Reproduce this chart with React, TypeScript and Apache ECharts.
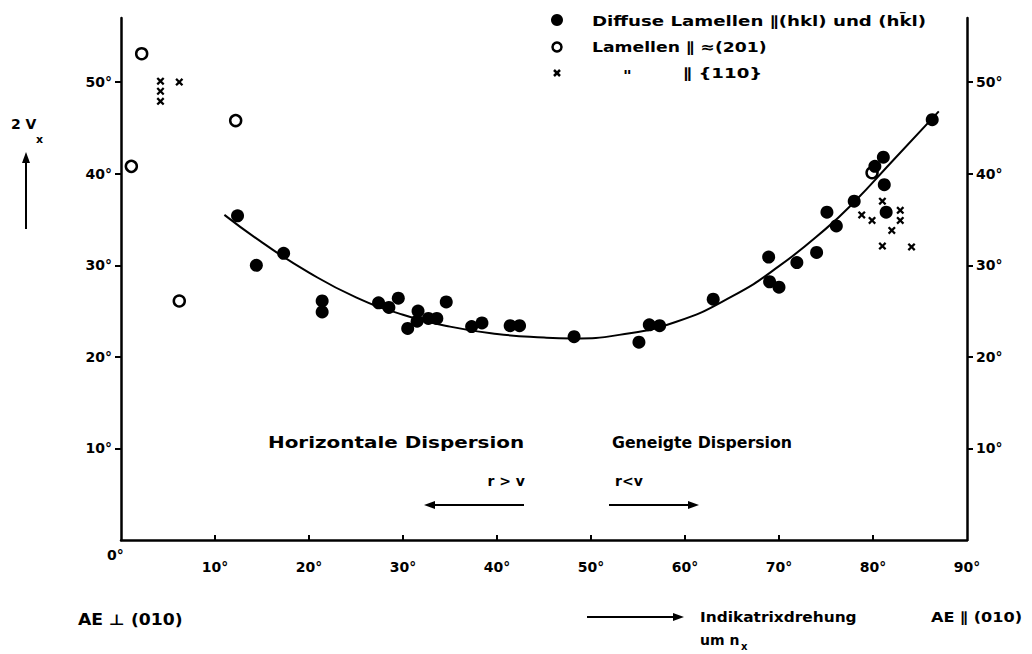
import React, { useEffect, useRef } from "react";
import * as echarts from "echarts";

// ---- data ----
const filledX = [12.4, 14.4, 17.3, 21.4, 21.4, 27.4, 28.5, 29.5, 30.5, 31.5, 31.6, 32.7, 33.6, 34.6, 37.3, 38.4, 41.4, 42.4, 48.2, 55.1, 56.2, 57.3, 63.0, 68.9, 69.0, 70.0, 71.9, 74.0, 75.1, 76.1, 78.0, 80.2, 81.1, 81.2, 81.4, 86.3];
const filledY = [35.4, 30.0, 31.3, 26.1, 24.9, 25.9, 25.4, 26.4, 23.1, 23.9, 25.0, 24.2, 24.2, 26.0, 23.3, 23.7, 23.4, 23.4, 22.2, 21.6, 23.5, 23.4, 26.3, 30.9, 28.2, 27.6, 30.3, 31.4, 35.8, 34.3, 37.0, 40.8, 41.8, 38.8, 35.8, 45.9];

const openX = [1.1, 2.2, 6.2, 12.2, 79.9];
const openY = [40.8, 53.1, 26.1, 45.8, 40.1];

const crossX = [4.2, 4.2, 4.2, 6.2, 78.8, 79.9, 81.0, 81.0, 82.0, 82.9, 82.9, 84.1];
const crossY = [50.1, 49.0, 47.9, 50.0, 35.5, 34.9, 37.0, 32.1, 33.8, 36.0, 34.9, 32.0];

const curveX = [11, 15, 20, 25, 30, 35, 40, 45, 48, 53, 59, 65, 70, 75, 78, 82, 87];
const curveY = [35.5, 32.5, 29.2, 26.5, 24.6, 23.3, 22.5, 22.1, 22.0, 22.4, 23.8, 26.6, 29.9, 34.0, 36.9, 41.3, 46.8];

const xTicks = [10, 20, 30, 40, 50, 60, 70, 80];
const xLabels = [10, 20, 30, 40, 50, 60, 70, 80, 90];
const yTicks = [10, 20, 30, 40, 50];

const NAME_FILLED = "Diffuse Lamellen \u2225(hkl) und (hk\u0304l)";
const NAME_OPEN = "Lamellen \u2225 \u2248(201)";
const NAME_CROSS = "\u2225 {110}";

const FONT = "DejaVu Sans";
const CROSS_PATH = "path://M0,2L2,0L5,3L8,0L10,2L7,5L10,8L8,10L5,7L2,10L0,8L3,5Z";

const zip = (xs: number[], ys: number[]) => xs.map((x, i) => [x, ys[i]]);

const txt = (x: number, y: number, text: string, size = 14, align = "left", scaleX = 1) => ({
  type: "text",
  x,
  y,
  scaleX,
  style: {
    text,
    fill: "#000",
    font: `bold ${size}px "${FONT}"`,
    textAlign: align,
    textVerticalAlign: "middle",
  },
});

const arrow = (x1: number, y1: number, x2: number, y2: number) => {
  const dx = x2 - x1;
  const dy = y2 - y1;
  const len = Math.sqrt(dx * dx + dy * dy);
  const ux = dx / len;
  const uy = dy / len;
  const hl = 11;
  const hw = 4;
  const bx = x2 - ux * hl;
  const by = y2 - uy * hl;
  return [
    { type: "line", shape: { x1, y1, x2: bx, y2: by }, style: { stroke: "#000", lineWidth: 2 } },
    {
      type: "polygon",
      shape: {
        points: [
          [x2, y2],
          [bx - uy * hw, by + ux * hw],
          [bx + uy * hw, by - ux * hw],
        ],
      },
      style: { fill: "#000" },
    },
  ];
};

export default function App() {
  const ref = useRef<HTMLDivElement>(null);

  useEffect(() => {
    if (!ref.current) return;
    const chart = echarts.init(ref.current, null, { renderer: "svg" });

    const labelStyle = {
      color: "#000",
      fontFamily: FONT,
      fontWeight: "bold",
      fontSize: 14,
    };

    const yAxisBase = {
      type: "value",
      min: 0,
      max: 57,
      splitLine: { show: false },
      axisLine: { show: true, onZero: false, lineStyle: { color: "#000", width: 2.5 } },
      axisTick: { show: true, inside: false, length: 6, lineStyle: { color: "#000", width: 2 }, customValues: yTicks },
      axisLabel: { ...labelStyle, margin: 9, formatter: "{value}°", customValues: yTicks },
    };

    const option = {
      animation: false,
      backgroundColor: "#fff",
      grid: { left: 121, right: 65, top: 18, bottom: 114, containLabel: false },
      xAxis: {
        type: "value",
        min: 0,
        max: 90,
        interval: 10,
        splitLine: { show: false },
        axisLine: { show: true, onZero: false, lineStyle: { color: "#000", width: 2.5 } },
        axisTick: { show: true, inside: true, length: 5, lineStyle: { color: "#000", width: 2 }, customValues: xTicks },
        axisLabel: { ...labelStyle, margin: 20, formatter: "{value}°", customValues: xLabels },
      },
      yAxis: [
        { ...yAxisBase, position: "left" },
        { ...yAxisBase, position: "right" },
      ],
      series: [
        {
          name: "curve",
          type: "line",
          data: zip(curveX, curveY),
          smooth: true,
          showSymbol: false,
          lineStyle: { color: "#000", width: 2 },
          z: 1,
        },
        {
          name: NAME_FILLED,
          type: "scatter",
          data: zip(filledX, filledY),
          symbol: "circle",
          symbolSize: 13,
          itemStyle: { color: "#000", opacity: 1 },
          z: 3,
        },
        {
          name: NAME_OPEN,
          type: "scatter",
          data: zip(openX, openY),
          symbol: "circle",
          symbolSize: 11,
          itemStyle: { color: "#fff", borderColor: "#000", borderWidth: 2.5, opacity: 1 },
          z: 2,
        },
        {
          name: NAME_CROSS,
          type: "scatter",
          data: zip(crossX, crossY),
          symbol: CROSS_PATH,
          symbolSize: 8,
          itemStyle: { color: "#000", opacity: 1 },
          z: 3,
        },
      ],
      graphic: [
        // legend
        { type: "circle", shape: { cx: 557, cy: 20, r: 6 }, style: { fill: "#000" } },
        { type: "circle", shape: { cx: 557, cy: 47, r: 4.5 }, style: { fill: "#fff", stroke: "#000", lineWidth: 2.5 } },
        { type: "line", shape: { x1: 554, y1: 70, x2: 560, y2: 76 }, style: { stroke: "#000", lineWidth: 2.5 } },
        { type: "line", shape: { x1: 560, y1: 70, x2: 554, y2: 76 }, style: { stroke: "#000", lineWidth: 2.5 } },
        txt(592, 21, NAME_FILLED, 14, "left", 1.3),
        txt(592, 47, NAME_OPEN, 14, "left", 1.23),
        txt(623, 75, '"', 14, "left", 1.2),
        txt(683, 73, NAME_CROSS, 14, "left", 1.3),
        // annotations
        txt(107, 555, "0°", 14, "left"),
        { type: "text", x: 11, y: 124, style: { text: "2 V", fill: "#000", font: `bold 14px "${FONT}"`, textVerticalAlign: "middle" } },
        { type: "text", x: 36, y: 139, style: { text: "x", fill: "#000", font: `bold 11px "${FONT}"`, textVerticalAlign: "middle" } },
        ...arrow(26, 229, 26, 152),
        txt(268, 443, "Horizontale Dispersion", 15, "left", 1.33),
        txt(612, 443, "Geneigte Dispersion", 15, "left", 1.05),
        txt(525, 481, "r > v", 14, "right"),
        txt(615, 481, "r<v", 14, "left"),
        ...arrow(524, 505, 424, 505),
        ...arrow(609, 505, 699, 505),
        txt(78, 620, "AE \u22A5 (010)", 15, "left", 1.15),
        ...arrow(587, 617, 684, 617),
        txt(700, 617, "Indikatrixdrehung", 14, "left", 1.1),
        { type: "text", x: 700, y: 640, style: { text: "um n", fill: "#000", font: `bold 14px "${FONT}"`, textVerticalAlign: "middle" } },
        { type: "text", x: 741, y: 646, style: { text: "x", fill: "#000", font: `bold 10px "${FONT}"`, textVerticalAlign: "middle" } },
        txt(931, 617, "AE \u2225 (010)", 14, "left", 1.15),
      ],
    };

    chart.setOption(option as any);
    return () => chart.dispose();
  }, []);

  return (
    <div
      ref={ref}
      style={{ position: "fixed", left: 0, top: 0, width: 1032, height: 654, background: "#fff" }}
    />
  );
}
